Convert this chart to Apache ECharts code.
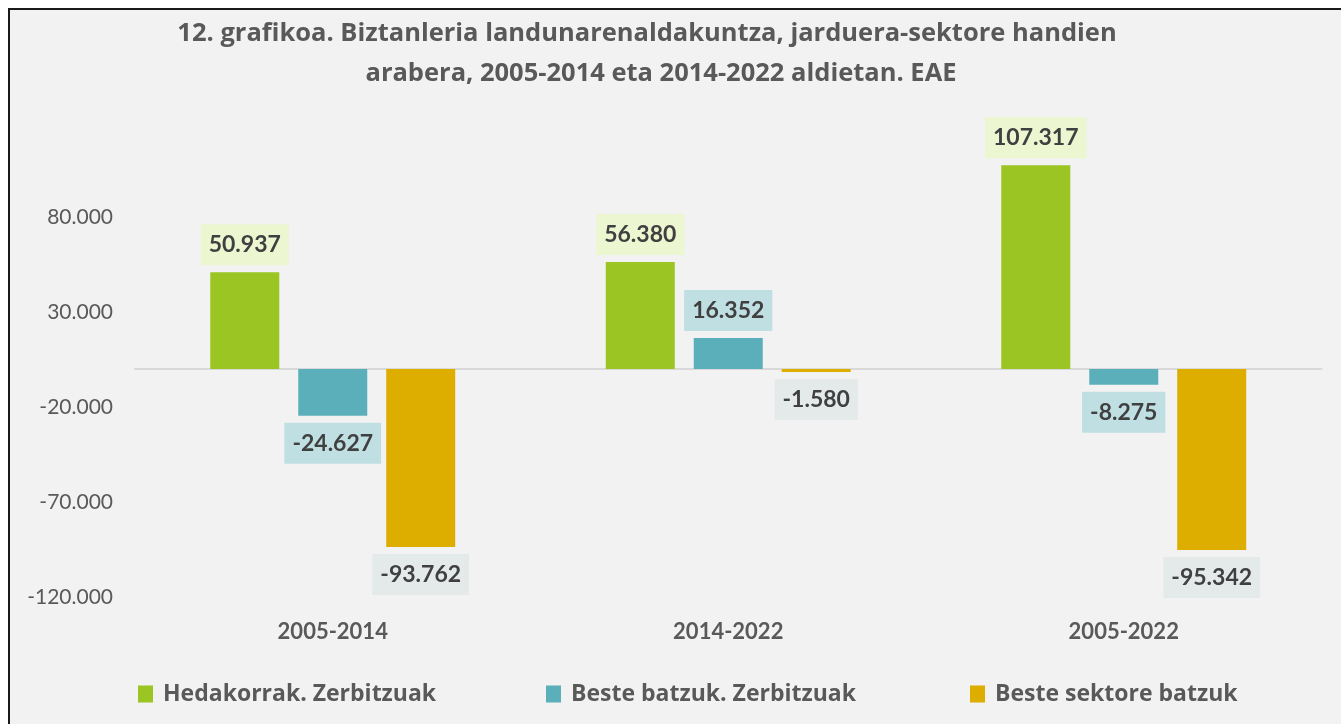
<!DOCTYPE html>
<html><head><meta charset="utf-8">
<script src="https://cdn.jsdelivr.net/npm/echarts@6/dist/echarts.min.js"></script>
<style>
html,body{margin:0;padding:0;background:#fff;overflow:hidden}
#frame{position:absolute;left:8px;top:8px;width:1340px;height:730px;border-top:2px solid #1a1a1a;border-left:2px solid #1a1a1a;background:#f2f2f2}
#chart{position:absolute;left:0;top:0;width:1341px;height:724px}
</style></head><body>
<div id="frame"></div><div id="chart"></div>
<script>
const titleLines = ['12. grafikoa. Biztanleria landunarenaldakuntza, jarduera-sektore handien', 'arabera, 2005-2014 eta 2014-2022 aldietan. EAE'];
const categories = ['2005-2014', '2014-2022', '2005-2022'];
const seriesNames = ['Hedakorrak. Zerbitzuak', 'Beste batzuk. Zerbitzuak', 'Beste sektore batzuk'];
const hedakorrak = [50937, 56380, 107317];
const besteZerbitzuak = [-24627, 16352, -8275];
const besteSektore = [-93762, -1580, -95342];
const yMin = -120000, yMax = 130000, yInterval = 50000;

const FONT = 'Lato';
const FONT_TXT = '"Open Sans"';
const barColors = ['#9bc523', '#5aafba', '#ddad00'];
const labelBg = ['#ecf6d1', '#bfdfe3', '#e4eaea'];

function fmt(v) {
  const s = Math.abs(Math.round(v)).toString().replace(/\B(?=(\d{3})+(?!\d))/g, '.');
  return (v < 0 ? '-' : '') + s;
}

function makeSeries(name, values, idx) {
  return {
    name: name,
    type: 'bar',
    xAxisIndex: 0,
    barWidth: 69,
    barGap: '27.5%',
    itemStyle: { color: barColors[idx] },
    data: values.map(v => ({
      value: v,
      label: { position: v < 0 ? 'bottom' : 'top' }
    })),
    label: {
      show: true,
      distance: 7,
      formatter: p => fmt(p.value),
      fontFamily: FONT,
      fontWeight: 'bold',
      fontSize: 23,
      lineHeight: 25,
      color: '#404040',
      backgroundColor: labelBg[idx],
      padding: [8, 8, 8, 8]
    }
  };
}

const chart = echarts.init(document.getElementById('chart'), null, { renderer: 'canvas' });
const legendLefts = [133, 541, 965];
chart.setOption({
  backgroundColor: 'transparent',
  animation: false,
  textStyle: { fontFamily: FONT },
  title: [
    { text: titleLines[0], left: 642, top: 8, textAlign: 'center',
      textStyle: { fontFamily: FONT_TXT, fontWeight: 'bold', fontSize: 25.5, lineHeight: 41, color: '#595959' } },
    { text: titleLines[1], left: 656, top: 48, textAlign: 'center',
      textStyle: { fontFamily: FONT_TXT, fontWeight: 'bold', fontSize: 25.5, lineHeight: 41, color: '#595959' } }
  ],
  legend: seriesNames.map((n, i) => ({
    data: [n],
    left: legendLefts[i],
    top: 677,
    icon: 'rect',
    itemWidth: 15,
    itemHeight: 17,
    selectedMode: false,
    textStyle: { fontFamily: FONT_TXT, fontWeight: 'bold', fontSize: 23, lineHeight: 24, color: '#595959', padding: [0, 0, 0, 5] }
  })),
  grid: { left: 135, right: 19.5, top: 122.3, bottom: 127.2, containLabel: false },
  xAxis: [
    {
      type: 'category', data: categories, position: 'bottom',
      axisLine: { show: false, onZero: false }, axisTick: { show: false },
      axisLabel: { margin: 24, fontFamily: FONT, fontWeight: 'bold', fontSize: 22, color: '#595959' }
    },
    {
      type: 'category', data: categories,
      axisLine: { show: true, onZero: true, lineStyle: { color: '#d9d9d9', width: 2 } },
      axisTick: { show: false }, axisLabel: { show: false }
    }
  ],
  yAxis: {
    type: 'value', min: yMin, max: yMax, interval: yInterval,
    axisLine: { show: false }, axisTick: { show: false }, splitLine: { show: false },
    axisLabel: { showMaxLabel: false, margin: 22, fontFamily: FONT, fontSize: 21, color: '#595959', formatter: v => fmt(v) }
  },
  series: [
    makeSeries(seriesNames[0], hedakorrak, 0),
    makeSeries(seriesNames[1], besteZerbitzuak, 1),
    makeSeries(seriesNames[2], besteSektore, 2)
  ]
});
</script>
</body></html>
